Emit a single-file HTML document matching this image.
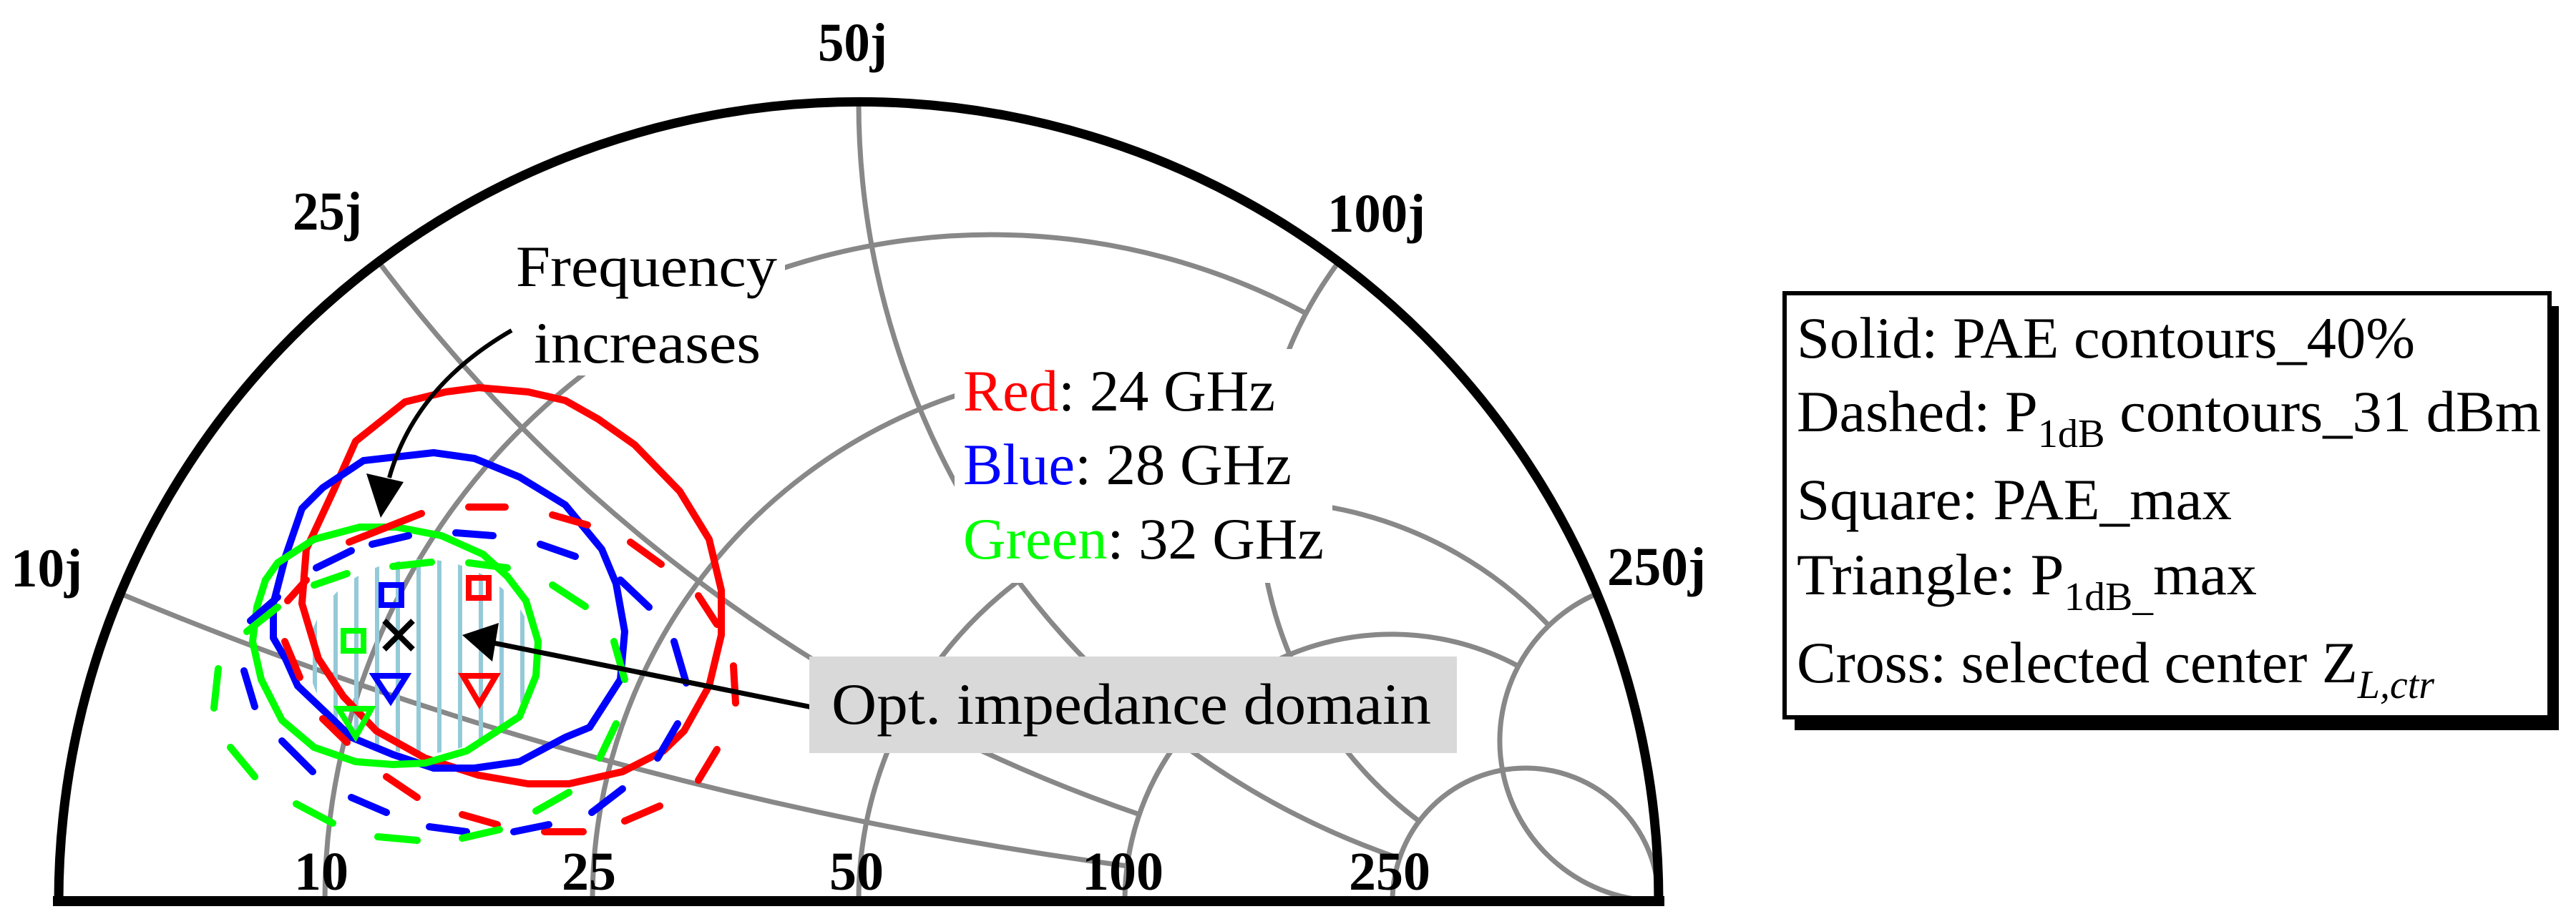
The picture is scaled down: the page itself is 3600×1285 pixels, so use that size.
<!DOCTYPE html>
<html><head><meta charset="utf-8"><style>
html,body{margin:0;padding:0;background:#fff;}
svg{display:block;}
text{font-family:"Liberation Serif",serif;}
</style></head><body>
<svg width="3600" height="1285" viewBox="0 0 3600 1285" xmlns="http://www.w3.org/2000/svg">
<defs>
<clipPath id="disk"><path d="M82,1260 A1118,1118 0 0 1 2318,1260 Z"/></clipPath>
<clipPath id="ell"><ellipse cx="589" cy="918" rx="158" ry="136"/></clipPath>
</defs>
<g clip-path="url(#disk)" fill="none" stroke="#888" stroke-width="7">
<path d="M454,1260 A932,932 0 0 1 1825,438"/>
<path d="M828,1260 A745,745 0 0 1 1781,544"/>
<path d="M1200,1260 A559,559 0 0 1 2164,874"/>
<path d="M1572,1260 A373,373 0 0 1 2121,931"/>
<path d="M1946,1260 A186,186 0 0 1 2318,1260"/>
<path d="M168,830 A5590,5590 0 0 0 1576,1211"/>
<path d="M529,366 A2236,2236 0 0 0 1593,1139"/>
<path d="M1200,142 A1118,1118 0 0 0 1955,1200"/>
<path d="M1871,366 A559,559 0 0 0 1983,1148"/>
<path d="M2232,830 A224,224 0 0 0 2318,1260"/>
</g>
<rect x="1334" y="488" width="528" height="327" fill="#fff"/>
<rect x="712" y="330" width="385" height="195" fill="#fff"/>
<path d="M82,1260 A1118,1118 0 0 1 2318,1260" fill="none" stroke="#000" stroke-width="13"/>
<line x1="74" y1="1260" x2="2326" y2="1260" stroke="#000" stroke-width="14"/>
<g clip-path="url(#ell)" stroke="#94cad8" stroke-width="6">
<line x1="440" y1="700" x2="440" y2="1100"/><line x1="469" y1="700" x2="469" y2="1100"/>
<line x1="498" y1="700" x2="498" y2="1100"/><line x1="527" y1="700" x2="527" y2="1100"/>
<line x1="556" y1="700" x2="556" y2="1100"/><line x1="585" y1="700" x2="585" y2="1100"/>
<line x1="614" y1="700" x2="614" y2="1100"/><line x1="643" y1="700" x2="643" y2="1100"/>
<line x1="672" y1="700" x2="672" y2="1100"/><line x1="701" y1="700" x2="701" y2="1100"/>
<line x1="730" y1="700" x2="730" y2="1100"/>
</g>
<g fill="none" stroke-width="10" stroke-linejoin="round">
<polygon stroke="#ff0000" points="497,617 566,562 623,548 669,542 738,548 790,560 836,586 887,622 950,687 991,754 1008,825 1008,888 991,959 956,1022 927,1050 870,1079 795,1096 738,1096 669,1084 594,1060 526,1022 480,974 445,921 422,844 428,768 468,682"/>
<polygon stroke="#0000ff" points="508,644 606,633 663,641 726,667 790,706 841,768 861,816 873,883 867,950 824,1017 790,1031 726,1065 663,1074 606,1074 549,1055 491,1031 457,998 416,959 399,921 382,892 382,844 399,778 422,711 451,682"/>
<polygon stroke="#00ff00" points="388,787 439,754 503,737 554,737 617,749 675,775 709,806 735,840 752,897 749,945 726,1002 703,1017 652,1050 594,1067 549,1069 497,1065 439,1045 394,1007 365,950 353,897 359,849 371,811"/>
</g>
<g stroke="#ff0000" stroke-width="10" stroke-linecap="round">
<line x1="488" y1="758" x2="589" y2="718"/><line x1="655" y1="709" x2="706" y2="709"/>
<line x1="772" y1="720" x2="821" y2="734"/><line x1="881" y1="758" x2="924" y2="789"/>
<line x1="976" y1="833" x2="1002" y2="873"/><line x1="1025" y1="931" x2="1028" y2="983"/>
<line x1="1002" y1="1048" x2="976" y2="1091"/><line x1="922" y1="1127" x2="873" y2="1148"/>
<line x1="815" y1="1163" x2="761" y2="1163"/><line x1="695" y1="1153" x2="646" y2="1139"/>
<line x1="583" y1="1115" x2="540" y2="1086"/><line x1="485" y1="1038" x2="451" y2="1005"/>
<line x1="419" y1="947" x2="398" y2="897"/><line x1="402" y1="840" x2="428" y2="811"/>
</g>
<g stroke="#0000ff" stroke-width="10" stroke-linecap="round">
<line x1="442" y1="794" x2="491" y2="770"/><line x1="520" y1="761" x2="571" y2="749"/>
<line x1="637" y1="745" x2="689" y2="749"/><line x1="755" y1="761" x2="804" y2="778"/>
<line x1="867" y1="811" x2="907" y2="849"/><line x1="942" y1="897" x2="959" y2="955"/>
<line x1="947" y1="1012" x2="919" y2="1060"/><line x1="870" y1="1103" x2="827" y2="1136"/>
<line x1="767" y1="1153" x2="718" y2="1163"/><line x1="652" y1="1163" x2="600" y2="1156"/>
<line x1="540" y1="1136" x2="491" y2="1115"/><line x1="437" y1="1079" x2="394" y2="1036"/>
<line x1="356" y1="988" x2="341" y2="938"/><line x1="350" y1="868" x2="388" y2="835"/>
</g>
<g stroke="#00ff00" stroke-width="10" stroke-linecap="round">
<line x1="439" y1="818" x2="485" y2="802"/><line x1="549" y1="792" x2="603" y2="786"/>
<line x1="655" y1="787" x2="709" y2="794"/><line x1="772" y1="818" x2="818" y2="848"/>
<line x1="858" y1="897" x2="873" y2="950"/><line x1="861" y1="1012" x2="838" y2="1060"/>
<line x1="795" y1="1108" x2="749" y2="1134"/><line x1="698" y1="1160" x2="646" y2="1172"/>
<line x1="583" y1="1175" x2="528" y2="1170"/><line x1="465" y1="1151" x2="414" y2="1124"/>
<line x1="356" y1="1086" x2="322" y2="1045"/><line x1="299" y1="990" x2="305" y2="935"/>
<line x1="345" y1="883" x2="388" y2="849"/>
</g>
<g fill="none" stroke-width="8">
<rect x="533" y="818" width="28" height="28" stroke="#0000ff"/>
<rect x="655" y="808" width="28" height="28" stroke="#ff0000"/>
<rect x="480" y="882" width="28" height="28" stroke="#00ff00"/>
<polygon points="523,945 568,945 546,980" stroke="#0000ff"/>
<polygon points="647,945 693,945 670,984" stroke="#ff0000"/>
<polygon points="473,991 519,991 497,1030" stroke="#00ff00"/>
<path d="M537,868 L577,908 M577,868 L537,908" stroke="#000" stroke-width="8"/>
</g>
<path d="M715,462 Q580,540 544,668" fill="none" stroke="#000" stroke-width="6"/>
<polygon points="512,662 564,674 532,724" fill="#000"/>
<line x1="1140" y1="990" x2="680" y2="897" stroke="#000" stroke-width="7"/>
<polygon points="646,888 697,871 688,925" fill="#000"/>
<rect x="1131" y="918" width="905" height="135" fill="#d9d9d9"/>
<text x="1162" y="1012" font-size="82" textLength="838" lengthAdjust="spacingAndGlyphs">Opt. impedance domain</text>
<text x="721" y="400" font-size="82" textLength="365" lengthAdjust="spacingAndGlyphs">Frequency</text>
<text x="746" y="507" font-size="82" textLength="317" lengthAdjust="spacingAndGlyphs">increases</text>
<text x="1346" y="574" font-size="82" textLength="436" lengthAdjust="spacingAndGlyphs"><tspan fill="#ff0000">Red</tspan>: 24 GHz</text>
<text x="1346" y="677" font-size="82" textLength="459" lengthAdjust="spacingAndGlyphs"><tspan fill="#0000ff">Blue</tspan>: 28 GHz</text>
<text x="1346" y="781" font-size="82" textLength="504" lengthAdjust="spacingAndGlyphs"><tspan fill="#00ff00">Green</tspan>: 32 GHz</text>
<g font-weight="bold" font-size="76">
<text x="1143" y="85" textLength="97" lengthAdjust="spacingAndGlyphs">50j</text>
<text x="409" y="321" textLength="97" lengthAdjust="spacingAndGlyphs">25j</text>
<text x="1855" y="324" textLength="137" lengthAdjust="spacingAndGlyphs">100j</text>
<text x="15" y="820" textLength="100" lengthAdjust="spacingAndGlyphs">10j</text>
<text x="2246" y="818" textLength="138" lengthAdjust="spacingAndGlyphs">250j</text>
<text x="449" y="1244" text-anchor="middle">10</text>
<text x="823" y="1244" text-anchor="middle">25</text>
<text x="1197" y="1244" text-anchor="middle">50</text>
<text x="1569" y="1244" text-anchor="middle">100</text>
<text x="1942" y="1244" text-anchor="middle">250</text>
</g>
<rect x="2508" y="428" width="1068" height="593" fill="#000"/>
<rect x="2494" y="410" width="1069" height="593" fill="#fff" stroke="#000" stroke-width="6"/>
<g font-size="82">
<text x="2511" y="500" textLength="864" lengthAdjust="spacingAndGlyphs">Solid: PAE contours_40%</text>
<text x="2511" y="603" textLength="1040" lengthAdjust="spacingAndGlyphs">Dashed: P<tspan font-size="56" dy="22">1dB</tspan><tspan dy="-22"> contours_31 dBm</tspan></text>
<text x="2511" y="726" textLength="608" lengthAdjust="spacingAndGlyphs">Square: PAE_max</text>
<text x="2511" y="831" textLength="643" lengthAdjust="spacingAndGlyphs">Triangle: P<tspan font-size="56" dy="22">1dB_</tspan><tspan dy="-22">max</tspan></text>
<text x="2511" y="954" textLength="891" lengthAdjust="spacingAndGlyphs">Cross: selected center Z<tspan font-size="56" font-style="italic" dy="22">L,ctr</tspan></text>
</g>
</svg>
</body></html>
